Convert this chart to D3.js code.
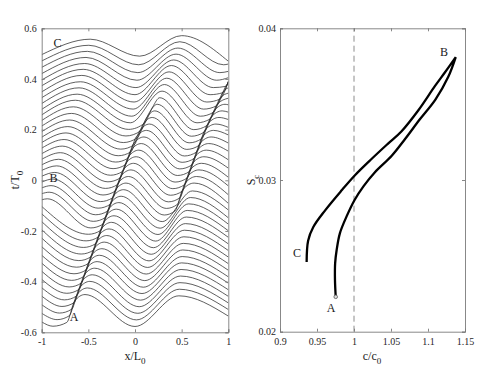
<!DOCTYPE html>
<html>
<head>
<meta charset="utf-8">
<title>Wave profiles and trajectory</title>
<script src="https://cdnjs.cloudflare.com/ajax/libs/d3/7.8.5/d3.min.js"></script>
<style>
  body { margin: 0; background: #fff; }
  text { font-family: "Liberation Serif", "Times New Roman", serif; }
</style>
</head>
<body>
<script>
// ---- data ----
var xTicks = [-1, -0.5, 0, 0.5, 1];
var tTicks = [-0.6, -0.4, -0.2, 0, 0.2, 0.4, 0.6];
var cTicks = [0.9, 0.95, 1, 1.05, 1.1, 1.15];
var sTicks = [0.02, 0.03, 0.04];

// surface profiles, bottom (A) to top (C), as [x/L0, t/T0] points
var profiles = [
  [[-1,-0.559],[-0.88,-0.576],[-0.731,-0.561],[-0.646,-0.476],[-0.536,-0.451],[0,-0.577],[0.47,-0.456],[1,-0.536]],
  [[-1,-0.525],[-0.835,-0.55],[-0.705,-0.535],[-0.62,-0.45],[-0.51,-0.425],[0.015,-0.551],[0.476,-0.43],[1,-0.51]],
  [[-1,-0.491],[-0.809,-0.524],[-0.679,-0.509],[-0.594,-0.424],[-0.484,-0.399],[0.03,-0.525],[0.482,-0.404],[1,-0.484]],
  [[-1,-0.457],[-0.783,-0.498],[-0.653,-0.483],[-0.568,-0.398],[-0.458,-0.373],[0.045,-0.499],[0.488,-0.378],[1,-0.458]],
  [[-1,-0.424],[-0.757,-0.472],[-0.627,-0.457],[-0.542,-0.372],[-0.432,-0.347],[0.06,-0.473],[0.494,-0.352],[1,-0.432]],
  [[-1,-0.391],[-0.731,-0.446],[-0.601,-0.431],[-0.516,-0.346],[-0.406,-0.321],[0.075,-0.447],[0.5,-0.326],[1,-0.406]],
  [[-1,-0.359],[-0.706,-0.421],[-0.576,-0.406],[-0.491,-0.321],[-0.381,-0.296],[0.09,-0.422],[0.506,-0.301],[1,-0.381]],
  [[-1,-0.327],[-0.68,-0.395],[-0.55,-0.38],[-0.465,-0.295],[-0.355,-0.27],[0.105,-0.396],[0.512,-0.275],[1,-0.355]],
  [[-1,-0.296],[-0.654,-0.369],[-0.524,-0.354],[-0.439,-0.269],[-0.329,-0.244],[0.12,-0.37],[0.518,-0.249],[1,-0.329]],
  [[-1,-0.262],[-0.628,-0.343],[-0.498,-0.328],[-0.413,-0.243],[-0.303,-0.218],[0.135,-0.344],[0.524,-0.223],[1,-0.303]],
  [[-1,-0.228],[-0.602,-0.317],[-0.472,-0.302],[-0.387,-0.217],[-0.277,-0.192],[0.15,-0.318],[0.53,-0.197],[1,-0.277]],
  [[-1,-0.195],[-0.576,-0.291],[-0.446,-0.276],[-0.361,-0.191],[-0.251,-0.166],[0.174,-0.292],[0.54,-0.171],[1,-0.251]],
  [[-1,-0.163],[-0.55,-0.265],[-0.42,-0.25],[-0.335,-0.165],[-0.225,-0.14],[0.198,-0.266],[0.55,-0.145],[1,-0.225]],
  [[-1,-0.132],[-0.524,-0.239],[-0.394,-0.224],[-0.309,-0.139],[-0.199,-0.114],[0.222,-0.24],[0.56,-0.119],[1,-0.199]],
  [[-1,-0.103],[-0.498,-0.213],[-0.368,-0.198],[-0.283,-0.113],[-0.173,-0.088],[0.246,-0.214],[0.575,-0.093],[1,-0.173]],
  [[-1,-0.077],[-0.94,-0.073],[-0.473,-0.188],[-0.343,-0.173],[-0.258,-0.088],[-0.148,-0.063],[0.27,-0.189],[0.595,-0.068],[1,-0.148]],
  [[-1,-0.053],[-0.92,-0.047],[-0.447,-0.162],[-0.317,-0.147],[-0.232,-0.062],[-0.122,-0.037],[0.292,-0.163],[0.615,-0.042],[1,-0.117]],
  [[-1,-0.03],[-0.9,-0.021],[-0.421,-0.136],[-0.291,-0.121],[-0.206,-0.036],[-0.096,-0.011],[0.314,-0.137],[0.429,-0.121],[0.514,-0.036],[0.634,-0.011],[1,-0.091]],
  [[-1,-0.007],[-0.88,0.005],[-0.395,-0.11],[-0.265,-0.095],[-0.18,-0.01],[-0.07,0.015],[0.336,-0.111],[0.455,-0.095],[0.54,-0.01],[0.66,0.015],[1,-0.057]],
  [[-1,0.016],[-0.86,0.031],[-0.369,-0.084],[-0.239,-0.069],[-0.153,0.016],[-0.043,0.041],[0.358,-0.085],[0.481,-0.069],[0.566,0.016],[0.686,0.041],[1,-0.022]],
  [[-1,0.039],[-0.84,0.057],[-0.343,-0.058],[-0.213,-0.043],[-0.125,0.042],[-0.015,0.067],[0.38,-0.059],[0.507,-0.043],[0.592,0.042],[0.712,0.067],[1,0.012]],
  [[-1,0.061],[-0.82,0.083],[-0.317,-0.032],[-0.187,-0.017],[-0.097,0.068],[0.013,0.093],[0.405,-0.033],[0.533,-0.017],[0.618,0.068],[0.738,0.093],[1,0.048]],
  [[-1,0.083],[-0.8,0.109],[-0.29,-0.006],[-0.16,0.009],[-0.069,0.094],[0.041,0.119],[0.43,-0.007],[0.559,0.009],[0.644,0.094],[0.764,0.119],[1,0.081]],
  [[-1,0.105],[-0.78,0.135],[-0.263,0.02],[-0.133,0.035],[-0.042,0.12],[0.068,0.145],[0.455,0.019],[0.585,0.035],[0.67,0.12],[0.79,0.145],[1,0.115]],
  [[-1,0.127],[-0.76,0.161],[-0.235,0.046],[-0.105,0.061],[-0.014,0.146],[0.096,0.171],[0.48,0.045],[0.611,0.061],[0.696,0.146],[0.816,0.171],[1,0.147]],
  [[-1,0.149],[-0.74,0.187],[-0.207,0.072],[-0.077,0.087],[0.014,0.172],[0.124,0.197],[0.505,0.071],[0.637,0.087],[0.722,0.172],[0.842,0.197],[1,0.179]],
  [[-1,0.17],[-0.72,0.212],[-0.18,0.097],[-0.045,0.112],[0.05,0.195],[0.155,0.222],[0.53,0.096],[0.662,0.112],[0.747,0.197],[0.867,0.222],[1,0.209]],
  [[-1,0.192],[-0.7,0.238],[-0.152,0.123],[-0.01,0.14],[0.085,0.22],[0.185,0.248],[0.555,0.122],[0.688,0.138],[0.78,0.223],[0.9,0.248],[1,0.24]],
  [[-1,0.214],[-0.68,0.264],[-0.125,0.149],[0.025,0.168],[0.12,0.245],[0.212,0.274],[0.58,0.148],[0.714,0.164],[0.814,0.249],[0.934,0.274],[1,0.269]],
  [[-1,0.236],[-0.66,0.29],[-0.097,0.175],[0.06,0.195],[0.155,0.268],[0.238,0.3],[0.605,0.174],[0.74,0.19],[0.849,0.275],[0.965,0.3],[1,0.298]],
  [[-1,0.258],[-0.64,0.316],[-0.069,0.201],[0.1,0.225],[0.19,0.29],[0.265,0.326],[0.63,0.2],[0.771,0.216],[0.883,0.301],[1,0.324]],
  [[-1,0.28],[-0.62,0.34],[-0.05,0.227],[0.29,0.352],[0.665,0.227],[0.805,0.242],[0.917,0.327],[1,0.344]],
  [[-1,0.303],[-0.6,0.365],[-0.035,0.253],[0.315,0.378],[0.7,0.253],[0.839,0.268],[0.951,0.353],[1,0.365]],
  [[-1,0.326],[-0.585,0.389],[-0.02,0.281],[0.34,0.403],[0.735,0.281],[0.874,0.294],[0.986,0.379],[1,0.384]],
  [[-1,0.349],[-0.57,0.414],[-0.01,0.309],[0.365,0.428],[0.77,0.309],[0.908,0.32],[1,0.39]],
  [[-1,0.373],[-0.555,0.438],[0,0.338],[0.39,0.453],[0.805,0.338],[0.942,0.346],[1,0.39]],
  [[-1,0.396],[-0.54,0.461],[0.01,0.366],[0.415,0.475],[0.84,0.366],[0.975,0.371],[1,0.39]],
  [[-1,0.421],[-0.525,0.485],[0.02,0.395],[0.44,0.498],[0.875,0.395],[1,0.405]],
  [[-1,0.446],[-0.51,0.509],[0.03,0.425],[0.46,0.522],[0.91,0.425],[1,0.43]],
  [[-1,0.471],[-0.495,0.533],[0.04,0.456],[0.48,0.547],[0.95,0.456],[1,0.459]],
  [[-1,0.496],[-0.48,0.557],[0.05,0.49],[0.5,0.571],[1,0.47]]
];

// trajectory in (c/c0, S_c): A -> B along the lower branch, then B -> C
var riseC = [0.9753, 0.9743, 0.9745, 0.9766, 0.981, 0.990, 1.001, 1.013, 1.028, 1.051, 1.069, 1.089, 1.110, 1.1274, 1.1375];
var riseS = [0.0223, 0.0234, 0.0245, 0.0254, 0.0265, 0.0276, 0.0287, 0.0296, 0.0305, 0.0316, 0.0327, 0.0340, 0.0353, 0.0368, 0.0381];
var fallC = [1.1375, 1.123, 1.1095, 1.087, 1.064, 1.046, 1.024, 1.001, 0.983, 0.961, 0.945, 0.938, 0.936];
var fallS = [0.0381, 0.0371, 0.0362, 0.0346, 0.0332, 0.0324, 0.0314, 0.0303, 0.0293, 0.0280, 0.0269, 0.0260, 0.0246];

var fmt = function(d) { return String(d); };
var serif = '"Liberation Serif", "Times New Roman", serif';

var svg = d3.select("body").append("svg")
    .attr("width", 491)
    .attr("height", 373);

var xL = d3.scaleLinear().domain([-1, 1]).range([41.7, 228.3]);
var yL = d3.scaleLinear().domain([-0.6, 0.6]).range([332.3, 28.3]);
var xR = d3.scaleLinear().domain([0.9, 1.15]).range([280, 465]);
var yR = d3.scaleLinear().domain([0.02, 0.04]).range([331.7, 28.3]);

// box with inward ticks on all four sides, matlab style
function frame(x, y, xt, yt, xPad, yPad) {
    var g = svg.append("g");
    var xr = x.range(), yr = y.range();
    g.append("g").attr("transform", "translate(0," + yr[0] + ")")
        .call(d3.axisBottom(x).tickValues(xt).tickSize(-3).tickPadding(xPad).tickFormat(fmt));
    g.append("g").attr("transform", "translate(0," + yr[1] + ")")
        .call(d3.axisTop(x).tickValues(xt).tickSize(-3).tickFormat(""));
    g.append("g").attr("transform", "translate(" + xr[0] + ",0)")
        .call(d3.axisLeft(y).tickValues(yt).tickSize(-3).tickPadding(yPad).tickFormat(fmt));
    g.append("g").attr("transform", "translate(" + xr[1] + ",0)")
        .call(d3.axisRight(y).tickValues(yt).tickSize(-3).tickFormat(""));
    g.selectAll("g").attr("font-family", serif).attr("font-size", 10);
    g.selectAll("path, line").attr("stroke", "#7a7a7a").attr("stroke-width", 0.9);
    g.selectAll("text").attr("fill", "#262626");
    return g;
}

// ---- left panel: profiles ----
svg.append("clipPath").attr("id", "clipL")
  .append("rect")
    .attr("x", xL(-1)).attr("y", yL(0.6))
    .attr("width", xL(1) - xL(-1)).attr("height", yL(-0.6) - yL(0.6));

var profLine = d3.line()
    .x(function(d) { return xL(d[0]); })
    .y(function(d) { return yL(d[1]); })
    .curve(d3.curveMonotoneX);

svg.append("g")
    .attr("clip-path", "url(#clipL)")
  .selectAll("path")
  .data(profiles)
  .enter()
  .append("path")
    .attr("d", profLine)
    .attr("fill", "none")
    .attr("stroke", "#2a2a2a")
    .attr("stroke-width", 0.75);

frame(xL, yL, xTicks, tTicks, 6, 5);

// ---- right panel: trajectory ----
svg.append("line")
    .attr("x1", xR(1)).attr("x2", xR(1))
    .attr("y1", yR(0.02)).attr("y2", yR(0.04))
    .attr("stroke", "#8c8c8c")
    .attr("stroke-width", 1)
    .attr("stroke-dasharray", "6,4");

var trajLine = d3.line()
    .x(function(d) { return xR(d[0]); })
    .y(function(d) { return yR(d[1]); })
    .curve(d3.curveCatmullRom.alpha(0.5));

var rise = riseC.map(function(c, i) { return [c, riseS[i]]; });
var fall = fallC.map(function(c, i) { return [c, fallS[i]]; });

svg.append("path")
    .attr("d", trajLine(rise) + trajLine(fall).replace(/^M/, "L"))
    .attr("fill", "none")
    .attr("stroke", "#000")
    .attr("stroke-width", 2.3)
    .attr("stroke-linejoin", "miter");

svg.append("circle")
    .attr("cx", xR(riseC[0])).attr("cy", yR(riseS[0]))
    .attr("r", 1.8)
    .attr("fill", "#ddd")
    .attr("stroke", "#555")
    .attr("stroke-width", 0.8);

frame(xR, yR, cTicks, sTicks, 6, 4);

// ---- labels ----
function label(x, y, s) {
    return svg.append("text")
        .attr("x", x).attr("y", y)
        .attr("text-anchor", "middle")
        .attr("fill", "#1a1a1a")
        .style("font-size", "12px")
        .text(s);
}

label(57.5, 47, "C");
label(53.5, 182, "B");
label(74, 321, "A");
label(444, 56, "B");
label(297, 257, "C");
label(331, 312, "A");

function subLabel(x, y, main, sub, rotate) {
    var t = svg.append("text")
        .attr("text-anchor", "middle")
        .attr("fill", "#1a1a1a")
        .style("font-size", "12px")
        .attr("transform", "translate(" + x + "," + y + ")" + (rotate ? " rotate(-90)" : ""));
    t.append("tspan").text(main);
    t.append("tspan").attr("dy", 4).style("font-size", "9px").text(sub);
    return t;
}

subLabel(135, 360, "x/L", "0", false);
subLabel(372, 360, "c/c", "0", false);
subLabel(19, 180, "t/T", "0", true);
subLabel(255, 180, "S", "c", true);
</script>
</body>
</html>
